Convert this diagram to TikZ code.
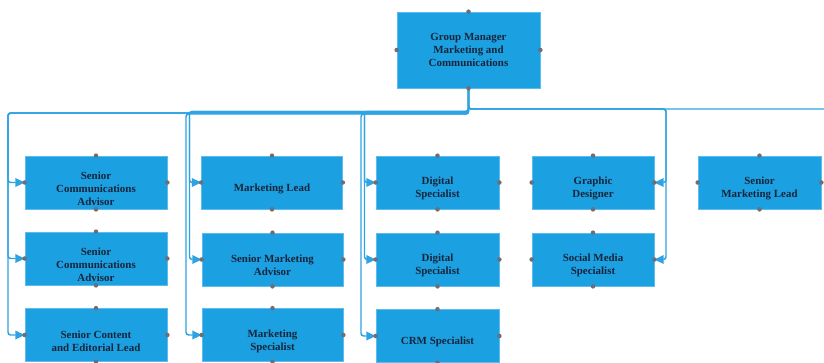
\documentclass[tikz,border=0pt]{standalone}
\usepackage{fontspec}
\setmainfont{Liberation Serif}
\usetikzlibrary{arrows.meta}
\definecolor{boxfill}{HTML}{1BA0E2}
\definecolor{boxedge}{HTML}{5DBBEE}
\definecolor{wire}{HTML}{2EA3E3}
\definecolor{ink}{HTML}{17253A}
\definecolor{port}{HTML}{6E6E78}
\tikzset{
  orgbox/.style={draw=boxedge, line width=0.5pt, fill=boxfill, inner sep=0pt, minimum height=39.75pt},
  wideA/.style={orgbox, minimum width=106.5pt},
  wideB/.style={orgbox, minimum width=105.75pt},
  narrowA/.style={orgbox, minimum width=92.25pt},
  narrowB/.style={orgbox, minimum width=91.5pt},
  lbl/.style={text=ink, font=\bfseries\fontsize{8.2}{9.75}\selectfont, align=center, inner sep=0pt},
  conn/.style={draw=wire, line width=1.1pt, rounded corners=2pt, -{Triangle[length=7pt,width=6.5pt]}},
  feed/.style={draw=wire, line width=1.1pt, rounded corners=2pt},
  portdot/.style={circle, fill=port, inner sep=0pt, minimum size=3.4pt}
}
\begin{document}
\begin{tikzpicture}[x=0.75pt,y=-0.75pt]
\useasboundingbox (0,0) rectangle (824,362);
\fill[white] (0,0) rectangle (824,362);

% head of the group
\node[orgbox, minimum width=107.25pt, minimum height=57pt] (top) at (468.5,50) {};
\node[lbl] (topT) at (top.center) {Group Manager\\Marketing and\\Communications};

% column 1
\node[wideA] (c1a) at (96,182.5) {};
\node[wideA] (c1b) at (96,258.5) {};
\node[wideA] (c1c) at (96,335) {};
% column 2
\node[wideB] (c2a) at (272,182.5) {};
\node[wideB] (c2b) at (272.5,259.5) {};
\node[wideB] (c2c) at (272.5,335) {};
% column 3
\node[narrowA] (c3a) at (437.5,182.5) {};
\node[narrowA] (c3b) at (437.5,259.5) {};
\node[narrowA] (c3c) at (437.5,336) {};
% column 4
\node[narrowB] (c4a) at (593,182.5) {};
\node[narrowB] (c4b) at (593,259.5) {};
% column 5
\node[narrowA] (c5a) at (759.5,182.5) {};

% titles, set a little below the box centres
\node[lbl] (c1aT) at ([yshift=-4.7pt]c1a.center) {Senior\\Communications\\Advisor};
\node[lbl] (c1bT) at ([yshift=-4.7pt]c1b.center) {Senior\\Communications\\Advisor};
\node[lbl] (c1cT) at ([yshift=-4.5pt]c1c.center) {Senior Content\\and Editorial Lead};
\node[lbl] (c2aT) at ([yshift=-4.5pt]c2a.center) {Marketing Lead};
\node[lbl] (c2bT) at ([yshift=-4.5pt]c2b.center) {Senior Marketing\\Advisor};
\node[lbl] (c2cT) at ([yshift=-4.5pt]c2c.center) {Marketing\\Specialist};
\node[lbl] (c3aT) at ([yshift=-4.7pt]c3a.center) {Digital\\Specialist};
\node[lbl] (c3bT) at ([yshift=-4.7pt]c3b.center) {Digital\\Specialist};
\node[lbl] (c3cT) at ([yshift=-4.7pt]c3c.center) {CRM Specialist};
\node[lbl] (c4aT) at ([yshift=-4.7pt]c4a.center) {Graphic\\Designer};
\node[lbl] (c4bT) at ([yshift=-4.7pt]c4b.center) {Social Media\\Specialist};
\node[lbl] (c5aT) at ([yshift=-4.7pt]c5a.center) {Senior\\Marketing Lead};

% routing lanes
\coordinate (laneA) at (8,113);
\coordinate (laneB1) at (189.5,111.5);
\coordinate (laneB2) at (186,114);
\coordinate (laneC1) at (364.5,111.5);
\coordinate (laneC2) at (361,114);
\coordinate (laneD) at (666,109);
\coordinate (laneE) at (824,109);

% reporting lines
\draw[conn] (top.south) |- (laneA) |- (c1a.west);
\draw[conn] (top.south) |- (laneA) |- (c1b.west);
\draw[conn] (top.south) |- (laneA) |- (c1c.west);
\draw[conn] (top.south) |- (laneB1) |- (c2a.west);
\draw[conn] (top.south) |- (laneB1) |- (c2b.west);
\draw[conn] (top.south) |- (laneB2) |- (c2c.west);
\draw[conn] (top.south) |- (laneC1) |- (c3a.west);
\draw[conn] (top.south) |- (laneC1) |- (c3b.west);
\draw[conn] (top.south) |- (laneC2) |- (c3c.west);
\draw[conn] (top.south) |- (laneD) |- (c4a.east);
\draw[conn] (top.south) |- (laneD) |- (c4b.east);
\draw[feed] (top.south) |- (laneE);

% connection ports
\foreach \n in {top,c1a,c1b,c1c,c2a,c2b,c2c,c3a,c3b,c3c,c4a,c4b,c5a}{
  \foreach \a in {north,south,east,west}{
    \node[portdot] (\n-\a) at (\n.\a) {};
  }
}
\end{tikzpicture}
\end{document}
